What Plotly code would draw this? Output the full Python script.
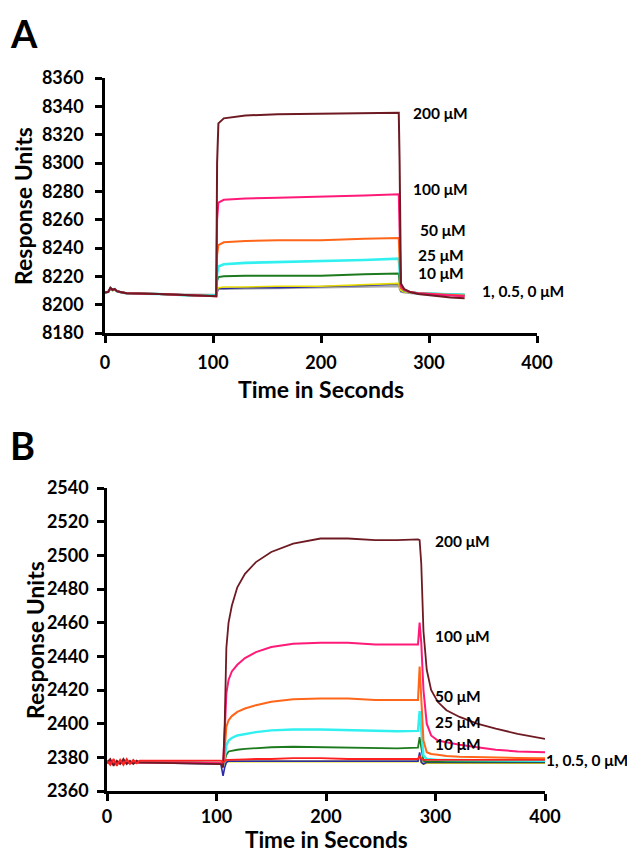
import plotly.graph_objects as go

# ---------------- Panel A data ----------------
A_t = [0, 3, 5, 7, 9, 11, 14, 20, 50, 80, 103, 103.8, 105, 110, 130, 160, 200, 240, 272, 272.8, 274, 277, 282, 290, 305, 320, 333]
A_200 = [8208.5, 8209, 8212, 8210.5, 8211, 8209.5, 8209, 8208, 8207.5, 8206.5, 8206, 8300, 8328, 8331.5, 8333.5, 8334.5, 8335, 8335, 8335.5, 8300, 8215, 8211, 8209, 8207.5, 8206, 8205, 8204.5]
A_100 = [8208.5, 8209, 8211.5, 8210.5, 8211, 8209.5, 8209, 8208, 8207.5, 8206.5, 8206, 8260, 8272, 8274, 8275, 8275.5, 8276, 8277, 8278, 8250, 8213, 8210.5, 8209, 8208, 8207, 8206.5, 8206]
A_50 = [8208.5, 8209, 8211.5, 8210.5, 8211, 8209.5, 8209, 8208, 8207.5, 8206.5, 8206, 8235, 8242, 8244, 8245, 8245.5, 8245.5, 8246.5, 8247, 8230, 8212, 8210.5, 8209, 8208, 8207.5, 8207, 8206.5]
A_25 = [8208.5, 8209, 8211.5, 8210.5, 8211, 8209.5, 8209, 8208, 8207.5, 8206.5, 8206.5, 8222, 8227, 8228.5, 8229.5, 8230, 8230.5, 8231.5, 8232.5, 8222, 8213, 8210.5, 8209, 8208, 8207.5, 8207, 8207]
A_10 = [8208.5, 8209, 8211.5, 8210.5, 8211, 8209.5, 8209, 8208, 8207.5, 8206.5, 8206.5, 8217, 8219.5, 8220, 8220.5, 8220.5, 8220.5, 8221.5, 8222, 8216, 8212, 8210, 8209, 8208, 8207.5, 8207, 8207]
A_1 = [8208.5, 8209, 8211, 8210, 8210.5, 8209.5, 8209, 8208, 8207.5, 8206.5, 8206.5, 8210, 8212, 8212.5, 8212.5, 8213, 8213, 8214, 8215, 8212, 8210, 8209, 8208.5, 8208, 8207.5, 8207, 8206.5]
A_05 = [8208.5, 8209, 8211, 8210, 8210.5, 8209.5, 8209, 8208, 8207.5, 8206.5, 8206.5, 8209.5, 8211.5, 8211.5, 8212, 8212, 8212.5, 8213.5, 8214.5, 8211.5, 8209.5, 8209, 8208.5, 8208, 8207.5, 8207, 8206.5]
A_0 = [8208.5, 8209, 8211, 8210, 8210.5, 8209.5, 8209, 8208, 8207.5, 8207, 8207, 8209.5, 8211, 8211, 8211, 8211.5, 8212, 8212.5, 8213, 8211, 8209, 8208.5, 8208, 8207.5, 8207, 8206.5, 8206.5]

# ---------------- Panel B data ----------------
B_t = [0, 3, 6, 9, 12, 15, 18, 21, 24, 27, 30, 60, 104, 106, 107.5, 109, 111, 114, 119, 126, 136, 150, 170, 195, 220, 245, 265, 284, 285.5, 287, 289, 292, 296, 302, 310, 322, 338, 355, 375, 400]
B_200 = [2377, 2379, 2375, 2378, 2376, 2379, 2376, 2378, 2376, 2378, 2377, 2376.5, 2376, 2374, 2400, 2445, 2460, 2470, 2481, 2489, 2496, 2502, 2507, 2510, 2510, 2509, 2509, 2509.5, 2509, 2495, 2455, 2432, 2420, 2413, 2408, 2404, 2400, 2397, 2394, 2391]
B_100 = [2377, 2377.5, 2376.5, 2377, 2377, 2377.5, 2377, 2377, 2377, 2377, 2377, 2377, 2376.5, 2375, 2395, 2418, 2426, 2431, 2435, 2439, 2442.5, 2445.5, 2447.5, 2448, 2448, 2447, 2447, 2447, 2460, 2448, 2420, 2400, 2393, 2390, 2389, 2387.5, 2386, 2384.5, 2383.5, 2383]
B_50 = [2377, 2377, 2376.5, 2377, 2377, 2377, 2377, 2377, 2377, 2377, 2377, 2377, 2376.5, 2375, 2385, 2398, 2402, 2404.5, 2407, 2409, 2411, 2413, 2414.5, 2415, 2415, 2414, 2414, 2414, 2434, 2414, 2390, 2383, 2382, 2381.5, 2380.8, 2380.3, 2380, 2379.8, 2379.6, 2379.5]
B_25 = [2377, 2377, 2376.5, 2377, 2377, 2377, 2377, 2377, 2377, 2377, 2377, 2377, 2376.5, 2375, 2380, 2387, 2390, 2391.5, 2393, 2394, 2395, 2396, 2396.5, 2396.5, 2396, 2395.5, 2395.5, 2395.7, 2407.5, 2396, 2381, 2379, 2378.7, 2378.5, 2378.4, 2378.3, 2378.2, 2378.1, 2378, 2378]
B_10 = [2377, 2377, 2376.5, 2377, 2377, 2377, 2377, 2377, 2377, 2377, 2377, 2377, 2376.5, 2375, 2378, 2381.5, 2383.5, 2384, 2384.5, 2385, 2385.5, 2386, 2386.3, 2386, 2385.7, 2385.3, 2385.3, 2385.7, 2392, 2386, 2378, 2377.5, 2377.5, 2377.5, 2377.5, 2377.5, 2377.5, 2377.5, 2377.5, 2377.5]
B_red = [2378, 2375.5, 2379, 2375, 2378.5, 2375.5, 2379, 2376, 2378.5, 2376.5, 2378, 2378, 2378, 2377, 2378, 2378.5, 2378.5, 2378.5, 2378.7, 2378.8, 2379, 2379, 2379.5, 2379.5, 2379, 2379, 2379, 2379, 2381, 2379, 2378.5, 2378.5, 2378.5, 2378.5, 2378.5, 2378.5, 2378.5, 2378.5, 2378.5, 2378.5]
B_1 = [2377, 2377, 2376.5, 2377, 2377, 2377, 2377, 2377, 2377, 2377, 2377, 2377, 2376.5, 2375, 2377, 2377.5, 2377.5, 2377.5, 2377.5, 2377.5, 2377.5, 2377.5, 2377.5, 2377.5, 2377.5, 2377.5, 2377.5, 2377.5, 2380, 2377, 2376, 2376.5, 2376.5, 2376.5, 2376.5, 2376.5, 2376.5, 2376.5, 2376.5, 2376.5]
B_05 = [2376.5, 2376.5, 2376, 2376.5, 2376.5, 2376.5, 2376.5, 2376.5, 2376.5, 2376.5, 2376.5, 2376.5, 2376, 2369, 2374, 2377, 2377.7, 2377.7, 2377.7, 2377.7, 2377.7, 2377.7, 2377.7, 2377.7, 2377.7, 2377.7, 2377.7, 2377.7, 2383, 2377, 2376, 2377, 2377, 2377, 2377, 2377, 2377, 2377, 2377, 2377]
B_0 = [2377.5, 2377.5, 2377, 2377.5, 2377.5, 2377.5, 2377.5, 2377.5, 2377.5, 2377.5, 2377.5, 2377.5, 2377, 2376, 2377.5, 2378, 2378, 2378, 2378, 2378, 2378, 2378, 2378, 2378, 2378, 2378, 2378, 2378, 2380, 2378, 2377, 2377.5, 2377.5, 2377.5, 2377.5, 2377.5, 2377.5, 2377.5, 2377.5, 2377.5]

# labels
A_labels = ["200 μM", "100 μM", "50 μM", "25 μM", "10 μM", "1, 0.5, 0 μM"]
A_label_x = [283, 283, 290, 288, 288, 347]
A_label_y = [8335.5, 8282, 8252.5, 8235, 8222.5, 8210]
B_labels = ["200 μM", "100 μM", "50 μM", "25 μM", "10 μM", "1, 0.5, 0 μM"]
B_label_x = [298, 298, 298, 298, 298, 399]
B_label_y = [2508.6, 2452, 2416.6, 2401, 2388, 2378.3]

x_ticks = [0, 100, 200, 300, 400]
A_y_ticks = [8180, 8200, 8220, 8240, 8260, 8280, 8300, 8320, 8340, 8360]
B_y_ticks = [2360, 2380, 2400, 2420, 2440, 2460, 2480, 2500, 2520, 2540]

C_MAROON = "#6E1A22"
C_PINK = "#FF1A78"
C_ORANGE = "#FF661A"
C_CYAN = "#30F0F0"
C_GREEN = "#1E7A1E"
C_YELLOW = "#E6DC00"
C_BLUE = "#2B2BA8"
C_GRAY = "#A8A8A8"
C_RED = "#FF2020"

# the page body adds an 8px margin, so the figure is drawn 8px smaller and
# all screen-pixel positions below are shifted by that offset
OFF = 8
W, H = 635 - OFF, 854 - OFF
FONT = "Lato, 'Open Sans', sans-serif"

fig = go.Figure()

A_series = [(A_0, C_GRAY, 1.8), (A_05, C_BLUE, 1.5), (A_1, C_YELLOW, 1.6), (A_10, C_GREEN, 2.0),
            (A_25, C_CYAN, 2.6), (A_50, C_ORANGE, 2.0), (A_100, C_PINK, 2.0), (A_200, C_MAROON, 2.0)]
for ys, col, w in A_series:
    fig.add_trace(go.Scatter(x=A_t, y=ys, mode="lines", line=dict(color=col, width=w),
                             xaxis="x", yaxis="y", showlegend=False, hoverinfo="skip"))

B_series = [(B_0, C_GRAY, 1.6), (B_1, C_YELLOW, 1.8), (B_05, C_BLUE, 1.6), (B_10, C_GREEN, 1.8),
            (B_25, C_CYAN, 2.4), (B_50, C_ORANGE, 2.0), (B_100, C_PINK, 2.0), (B_200, C_MAROON, 1.8),
            (B_red, C_RED, 1.8)]
for ys, col, w in B_series:
    fig.add_trace(go.Scatter(x=B_t, y=ys, mode="lines", line=dict(color=col, width=w),
                             xaxis="x2", yaxis="y2", showlegend=False, hoverinfo="skip"))

axis_common = dict(showgrid=False, zeroline=False, showline=True, linecolor="black", linewidth=2.5,
                   ticks="outside", ticklen=7, tickwidth=2.5, tickcolor="black", automargin=False,
                   tickfont=dict(family=FONT, size=18, color="black", weight="bold"))

def px_x(p):
    return (p - OFF) / W

def px_y(p):
    return 1 - (p - OFF) / H

fig.update_layout(
    width=W, height=H, margin=dict(l=0, r=0, t=0, b=0, pad=0, autoexpand=False),
    paper_bgcolor="white", plot_bgcolor="white",
    xaxis=dict(domain=[px_x(105), px_x(537)], range=[0, 400], tickvals=x_ticks, anchor="y",
               ticklabelstandoff=5, **axis_common),
    yaxis=dict(domain=[px_y(333), px_y(78)], range=[8180, 8360], tickvals=A_y_ticks, anchor="x",
               ticklabelstandoff=8, **axis_common),
    xaxis2=dict(domain=[px_x(107), px_x(545)], range=[0, 400], tickvals=x_ticks, anchor="y2",
                ticklabelstandoff=1, **axis_common),
    yaxis2=dict(domain=[px_y(791), px_y(488)], range=[2360, 2540], tickvals=B_y_ticks, anchor="x2",
                ticklabelstandoff=5, **axis_common),
)

ann = []
lab_font = dict(family=FONT, size=15.5, color="black", weight="bold")
for txt, x, y in zip(A_labels, A_label_x, A_label_y):
    ann.append(dict(text=txt, x=x, y=y, xref="x", yref="y", xanchor="left", yanchor="middle",
                    showarrow=False, font=lab_font))
for txt, x, y in zip(B_labels, B_label_x, B_label_y):
    ann.append(dict(text=txt, x=x, y=y, xref="x2", yref="y2", xanchor="left", yanchor="middle",
                    showarrow=False, font=lab_font))

title_font = dict(family=FONT, size=23, color="black", weight="bold")
ann += [
    dict(text="A", x=px_x(8), y=px_y(33), xref="paper", yref="paper", xanchor="left", yanchor="middle",
         showarrow=False, font=dict(family=FONT, size=38, color="black", weight="bold")),
    dict(text="B", x=px_x(8), y=px_y(445), xref="paper", yref="paper", xanchor="left", yanchor="middle",
         showarrow=False, font=dict(family=FONT, size=38, color="black", weight="bold")),
    dict(text="Response Units", x=px_x(23), y=px_y(206), xref="paper", yref="paper", textangle=-90,
         xanchor="center", yanchor="middle", showarrow=False, font=title_font),
    dict(text="Response Units", x=px_x(35), y=px_y(640), xref="paper", yref="paper", textangle=-90,
         xanchor="center", yanchor="middle", showarrow=False, font=title_font),
    dict(text="Time in Seconds", x=px_x(321), y=px_y(389), xref="paper", yref="paper",
         xanchor="center", yanchor="middle", showarrow=False, font=title_font),
    dict(text="Time in Seconds", x=px_x(326), y=px_y(839), xref="paper", yref="paper",
         xanchor="center", yanchor="middle", showarrow=False,
         font=dict(family=FONT, size=22.5, color="black", weight="bold")),
]
fig.update_layout(annotations=ann)

fig.write_html("out.html")
